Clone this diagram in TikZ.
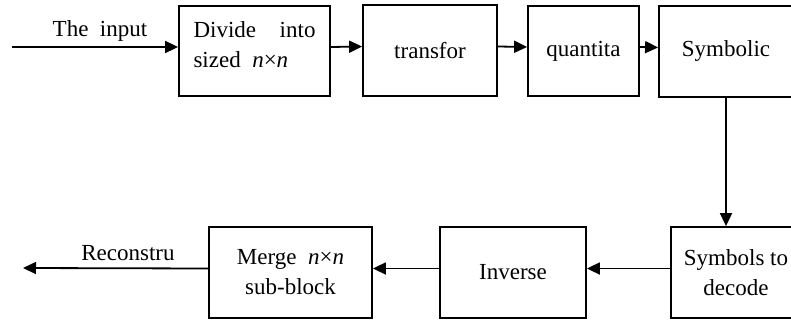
\documentclass[tikz,border=0pt]{standalone}
\usepackage{fontspec}
\setmainfont{Liberation Serif}
\usetikzlibrary{arrows.meta}

\begin{document}
\begin{tikzpicture}[x=0.5pt, y=-0.5pt,
        block/.style={draw, line width=0.9pt, inner sep=0pt, align=center,
            font=\fontsize{11.5}{15}\selectfont},
        flow/.style={line width=0.9pt, -{Triangle[length=6.5pt, width=6pt]}}]
        % Frame
        \useasboundingbox (0,0) rectangle (791,320);
        \clip (0,0) rectangle (791,320);

        % Coding Chain
        \node[block, minimum width=75.5pt, minimum height=45pt] (divide) at (254.5,51)
            {\makebox[61pt]{Divide\hfill into}\\\makebox[61pt][l]{sized\ \ \textit{n}×\textit{n}}\\[-9pt]};
        \node[block, minimum width=67pt, minimum height=45.5pt] (transfor) at (430,50.5) {transfor};
        \node[block, minimum width=55.5pt, minimum height=45pt] (quantita) at (583.5,51) {quantita};
        \node[block, minimum width=67pt, minimum height=45.5pt] (symbolic) at (726,51.5) {Symbolic};

        % Decoding Chain
        \node[block, minimum width=65pt, minimum height=45.5pt] (symbols) at (736,272.5) {Symbols to\\decode};
        \node[block, minimum width=73pt, minimum height=45.5pt] (inverse) at (513,272.5) {Inverse};
        \node[block, minimum width=81.5pt, minimum height=45.5pt] (merge) at (290.5,272.5)
            {Merge\ \ \textit{n}×\textit{n}\\sub-block};

        % Input and Output
        \coordinate (in) at (12,47);
        \coordinate (out) at (23,268);
        \node[font=\fontsize{11.5}{15}\selectfont] (inlabel) at (100,31) {The\ \ input};
        \node[font=\fontsize{11.5}{15}\selectfont] (outlabel) at (128,253) {Reconstru};

        % Arrows
        \draw[flow] (in) -- ([yshift=2pt]divide.west);
        \draw[flow] ([yshift=2pt]divide.east) -- ([yshift=2pt]transfor.west);
        \draw[flow] ([yshift=2pt]transfor.east) -- ([yshift=2pt]quantita.west);
        \draw[flow] ([yshift=2pt]quantita.east) -- ([yshift=2pt]symbolic.west);
        \draw[flow] (symbolic.south) -- (symbolic.south |- symbols.north);
        \draw[flow] ([yshift=2pt]symbols.west) -- ([yshift=2pt]inverse.east);
        \draw[flow] ([yshift=2pt]inverse.west) -- ([yshift=2pt]merge.east);
        \draw[flow] ([yshift=2pt]merge.west) -- (out);
    \end{tikzpicture}
\end{document}
